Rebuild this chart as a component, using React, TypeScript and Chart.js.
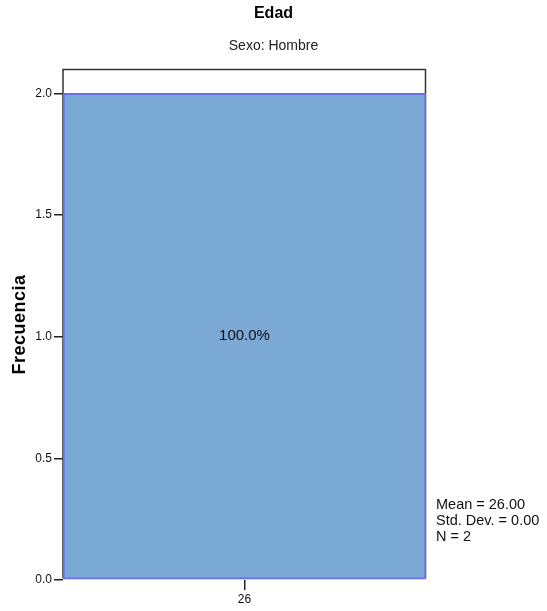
import React, { useEffect, useRef } from "react";
import { Chart, registerables } from "chart.js";

Chart.register(...registerables);

const categories = ["26"];
const frequencies = [2];
const percentLabels = ["100.0%"];
const yTicks = [0, 0.5, 1.0, 1.5, 2.0];
const titleText = "Edad";
const subtitleText = "Sexo: Hombre";
const yTitleText = "Frecuencia";
const statsLines = ["Mean = 26.00", "Std. Dev. = 0.00", "N = 2"];

const FONT = "'Liberation Sans', Arial, sans-serif";

const decorPlugin = {
  id: "decor",
  beforeDatasetsDraw(chart: any) {
    const { ctx, chartArea } = chart;
    ctx.save();
    ctx.strokeStyle = "#333333";
    ctx.lineWidth = 1.5;
    ctx.beginPath();
    ctx.moveTo(chartArea.left, chartArea.bottom - 2);
    ctx.lineTo(chartArea.left, chartArea.top + 0.5);
    ctx.lineTo(chartArea.right - 0.5, chartArea.top + 0.5);
    ctx.lineTo(chartArea.right - 0.5, chartArea.bottom - 2);
    ctx.stroke();
    ctx.restore();
  },
  afterDraw(chart: any) {
    const { ctx, chartArea } = chart;
    ctx.save();
    ctx.fillStyle = "#000";
    ctx.textAlign = "center";
    ctx.textBaseline = "middle";
    ctx.font = `bold 16px ${FONT}`;
    ctx.fillText(titleText, chart.width / 2, 14);
    ctx.fillStyle = "#222";
    ctx.font = `14px ${FONT}`;
    ctx.fillText(subtitleText, chart.width / 2, 46);

    // y axis title
    ctx.save();
    ctx.translate(20, (chartArea.top + chartArea.bottom) / 2);
    ctx.rotate(-Math.PI / 2);
    ctx.fillStyle = "#000";
    ctx.font = `bold 18px ${FONT}`;
    (ctx as any).letterSpacing = "0.5px";
    ctx.fillText(yTitleText, 0, 0);
    ctx.restore();

    // bar labels
    const meta = chart.getDatasetMeta(0);
    ctx.font = `15px ${FONT}`;
    ctx.fillStyle = "#111";
    meta.data.forEach((bar: any, i: number) => {
      const cy = (bar.y + bar.base) / 2;
      ctx.fillText(percentLabels[i], bar.x, cy);
    });

    // stats
    ctx.textAlign = "left";
    ctx.font = `14.5px ${FONT}`;
    ctx.fillStyle = "#111";
    statsLines.forEach((s, i) => {
      ctx.fillText(s, chartArea.right + 10, 505 + i * 16);
    });
    ctx.restore();
  },
};

export default function App() {
  const ref = useRef<HTMLCanvasElement>(null);
  useEffect(() => {
    const chart = new Chart(ref.current!, {
      type: "bar",
      data: {
        labels: categories,
        datasets: [
          {
            data: frequencies,
            backgroundColor: "#7ba9d6",
            borderColor: "#6b6bef",
            borderWidth: 2,
            borderSkipped: false,
            barPercentage: 1,
            categoryPercentage: 1,
          },
        ],
      },
      options: {
        responsive: false,
        animation: false,
        layout: { padding: { left: 0, top: 69, right: 121, bottom: 0 } },
        plugins: {
          legend: { display: false },
          tooltip: { enabled: false },
          title: { display: false },
        },
        scales: {
          x: {
            grid: {
              offset: false,
              drawOnChartArea: false,
              drawTicks: true,
              tickLength: 10,
              color: "#222",
              lineWidth: 1.5,
            },
            border: { display: false },
            ticks: {
              color: "#111",
              font: { family: FONT, size: 12 },
              padding: 2,
              maxRotation: 0,
            },
            afterFit: (s: any) => {
              s.height = 31;
            },
          },
          y: {
            min: 0,
            max: 2.1,
            afterBuildTicks: (axis: any) => {
              axis.ticks = yTicks.map((v) => ({ value: v }));
            },
            grid: {
              drawOnChartArea: false,
              drawTicks: true,
              tickLength: 9,
              color: "#222",
              lineWidth: 1.5,
            },
            border: { display: false },
            ticks: {
              color: "#111",
              font: { family: FONT, size: 12 },
              padding: 2,
              callback: (v: any) => Number(v).toFixed(1),
            },
            title: { display: false },
            afterFit: (s: any) => {
              s.width = 63;
            },
          },
        },
      },
      plugins: [decorPlugin],
    });
    return () => chart.destroy();
  }, []);
  return (
    <div style={{ position: "fixed", left: 0, top: 0, width: 547, height: 611, background: "#fff" }}>
      <canvas ref={ref} width={547} height={611} style={{ display: "block" }} />
    </div>
  );
}
